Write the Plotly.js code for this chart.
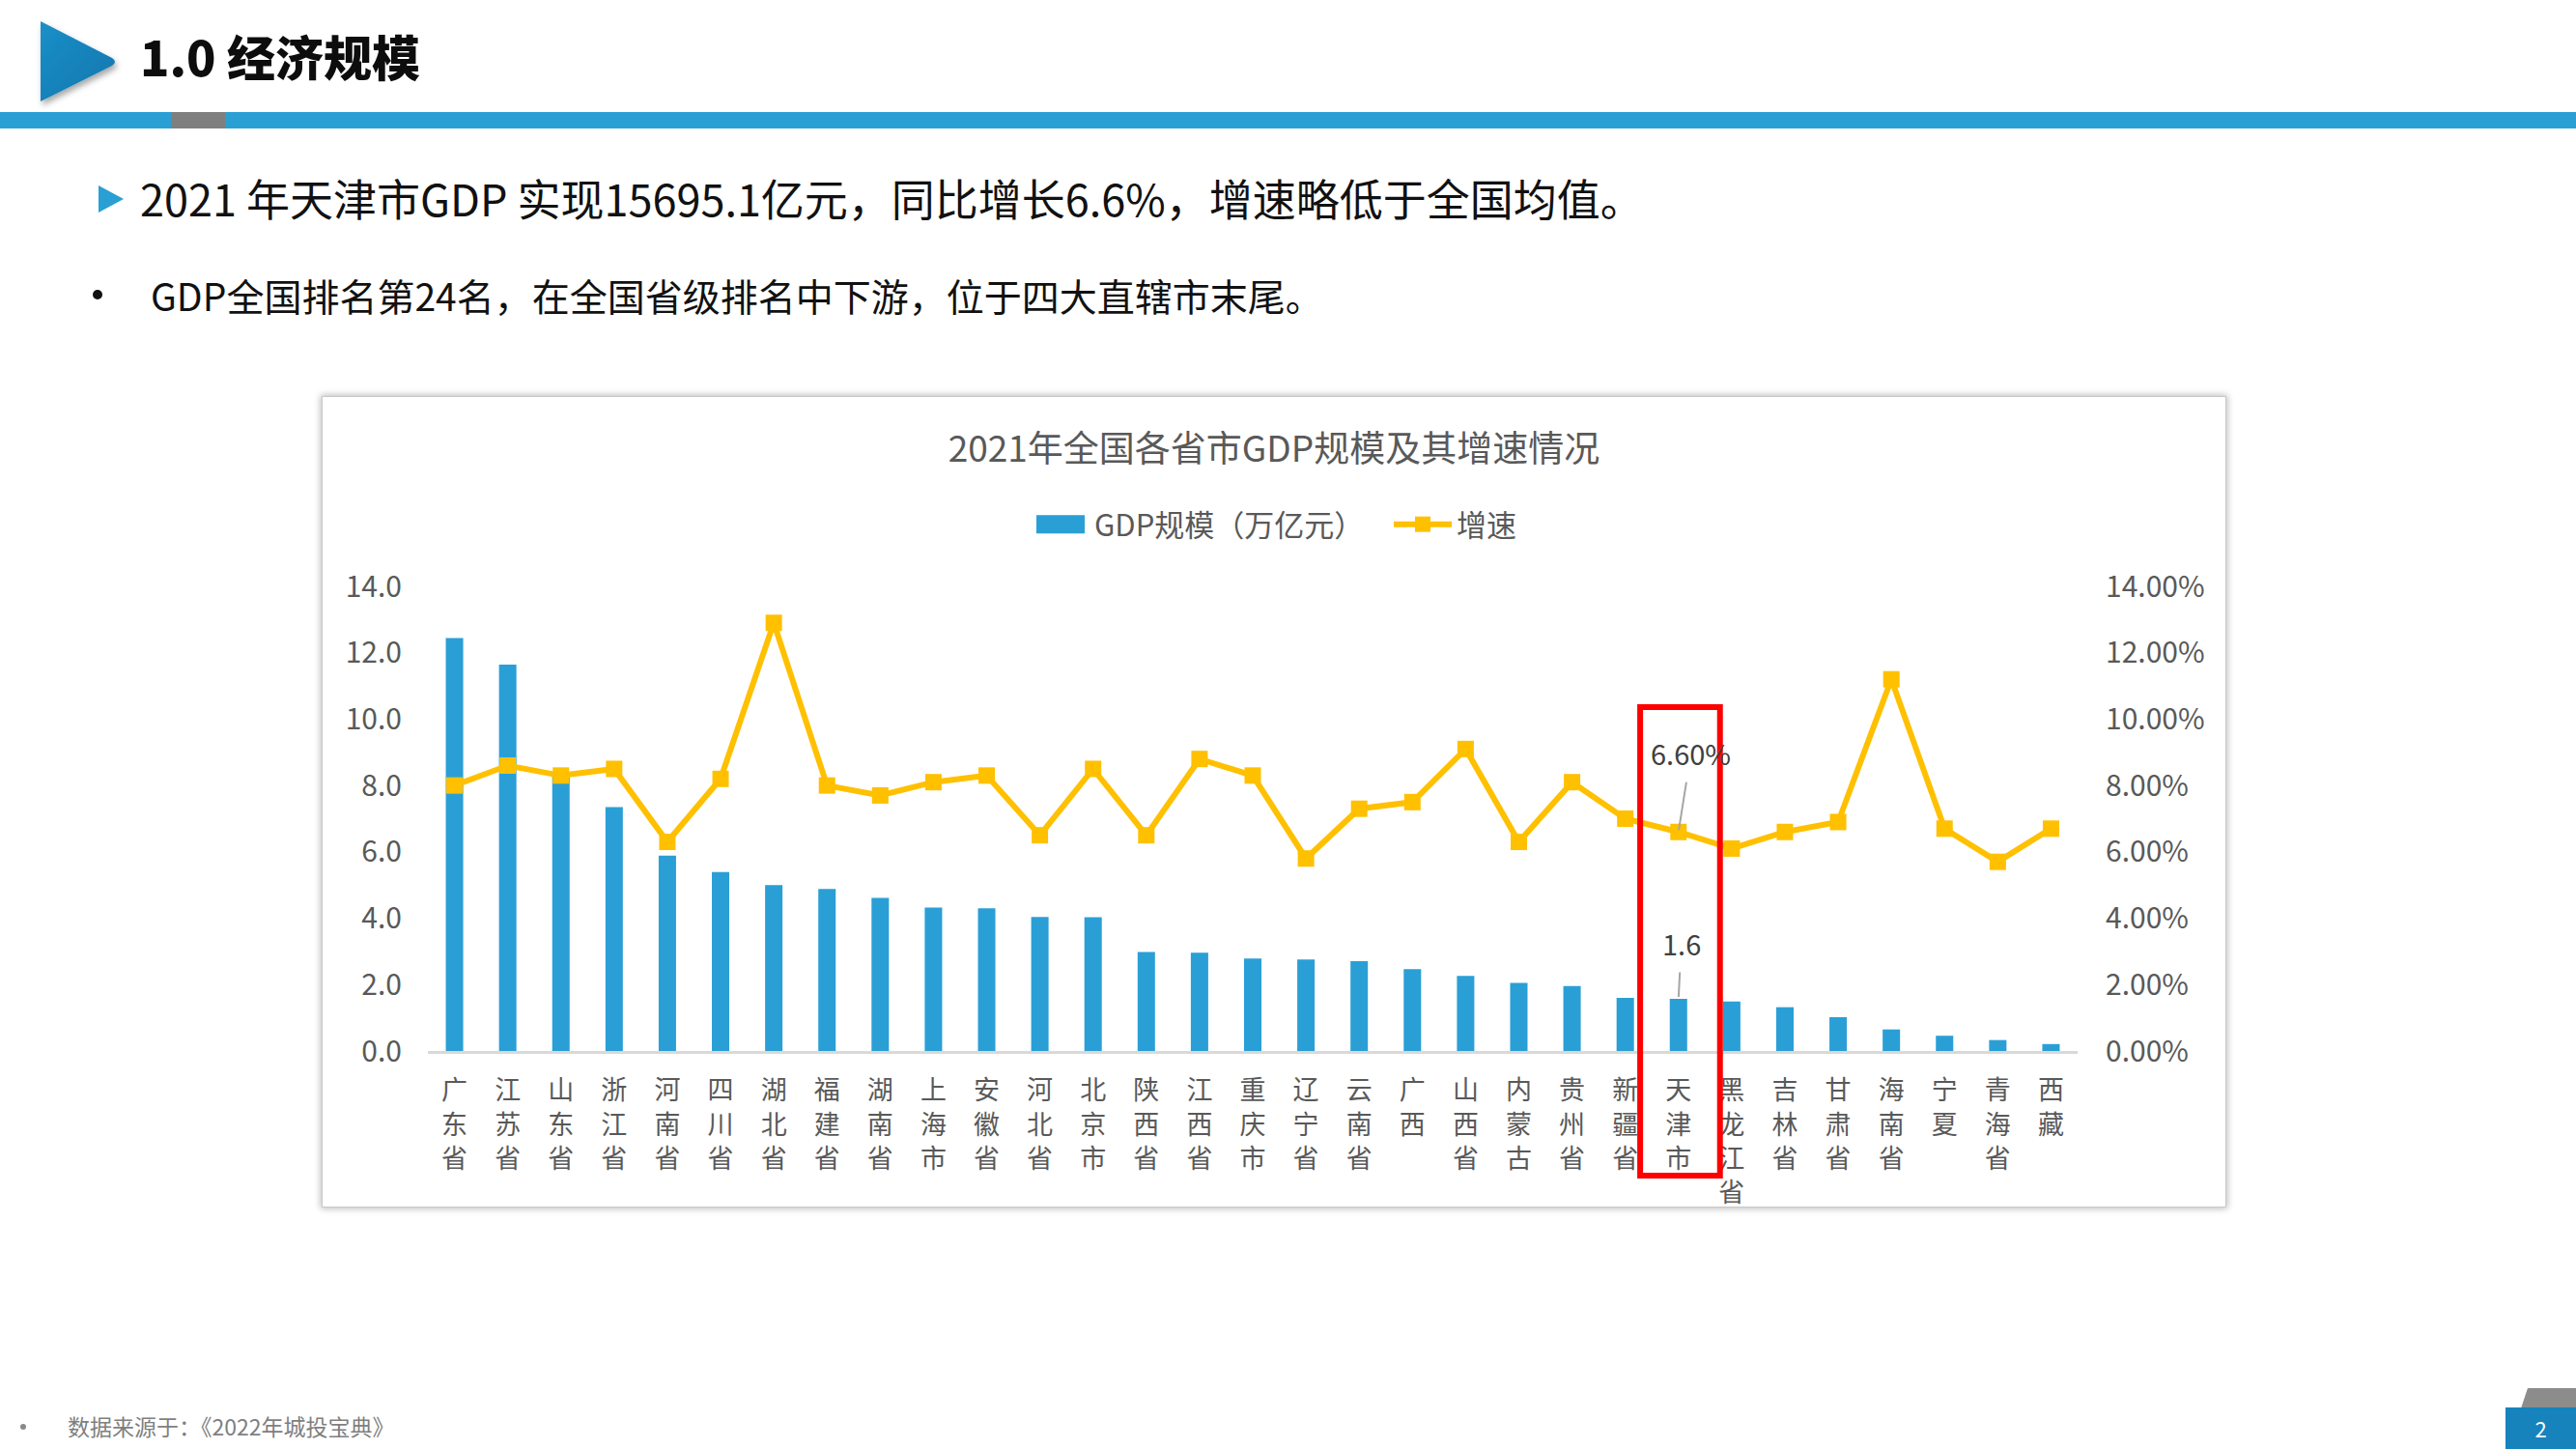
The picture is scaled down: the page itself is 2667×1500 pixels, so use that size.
<!DOCTYPE html>
<html>
<head>
<meta charset="utf-8">
<script src="https://cdn.plot.ly/plotly-3.0.1.min.js"></script>
<style>
  html, body { margin:0; padding:0; background:#ffffff; }
  body { width:2667px; height:1500px; position:relative; overflow:hidden;
         font-family:"Noto Sans CJK SC","Noto Sans",sans-serif; }
  .abs { position:absolute; }
  #hdrTitle { left:145px; top:22px; font-size:50px; font-weight:900; color:#0d0d0d; line-height:70px; }
  #bar { left:0; top:116px; width:2667px; height:17px; background:#2a9fd3; }
  #barGray { left:177px; top:116px; width:56px; height:17px; background:#7f7f7f; }
  #line1 { left:145px; top:177px; font-size:45px; color:#111; line-height:56px; white-space:nowrap; }
  #tri1 { left:100px; top:191px; }
  #line2 { left:156px; top:281px; font-size:39px; color:#111; line-height:48px; white-space:nowrap; }
  #dot2 { left:96px; top:300px; width:10px; height:10px; border-radius:50%; background:#111; }
  #frame { left:333px; top:410px; width:1972px; height:840px; border:1px solid #c8c8c8;
           box-shadow:0 0 7px 1px rgba(0,0,0,0.28); background:#fff; box-sizing:border-box; }
  #chart { left:333px; top:410px; width:1972px; height:880px; }
  #foot { left:70px; top:1461px; font-size:23px; color:#7f7f7f; white-space:nowrap; line-height:30px; }
  #dotF { left:21px; top:1474px; width:6px; height:6px; border-radius:50%; background:#8a8a8a; }
  #pgBox { left:2594px; top:1457px; width:73px; height:43px; background:#1683bd; color:#fff;
           font-size:22px; text-align:center; line-height:43px; }
</style>
</head>
<body>
<svg class="abs" style="left:30px;top:12px" width="110" height="105" viewBox="0 0 110 105">
  <defs>
    <linearGradient id="tg" x1="0" y1="0" x2="1" y2="1">
      <stop offset="0" stop-color="#1c8fc8"/>
      <stop offset="1" stop-color="#0f76ad"/>
    </linearGradient>
    <filter id="sh" x="-20%" y="-20%" width="150%" height="150%">
      <feDropShadow dx="2" dy="4" stdDeviation="3" flood-color="#000" flood-opacity="0.35"/>
    </filter>
  </defs>
  <path d="M12,10 L86,48 Q92,52 86,56 L12,93 Z" fill="url(#tg)" filter="url(#sh)"/>
</svg>
<div id="hdrTitle" class="abs">1.0 经济规模</div>
<div id="bar" class="abs"></div>
<div id="barGray" class="abs"></div>
<svg id="tri1" class="abs" width="30" height="30" viewBox="0 0 30 30"><path d="M2,1 L28,15 L2,29 Z" fill="#2a9fd3"/></svg>
<div id="line1" class="abs">2021 年天津市GDP 实现15695.1亿元，同比增长6.6%，增速略低于全国均值。</div>
<div id="dot2" class="abs"></div>
<div id="line2" class="abs">GDP全国排名第24名，在全国省级排名中下游，位于四大直辖市末尾。</div>
<div id="frame" class="abs"></div>
<div id="chart" class="abs"></div>
<div id="dotF" class="abs"></div>
<div id="foot" class="abs">数据来源于：《2022年城投宝典》</div>
<svg class="abs" style="left:2610px;top:1437px" width="57" height="21"><path d="M7,0 L57,0 L57,21 L0,21 Z" fill="#8c8c8c"/></svg>
<div id="pgBox" class="abs">2</div>

<script>
const provinces = ['广东省','江苏省','山东省','浙江省','河南省','四川省','湖北省','福建省','湖南省','上海市',
  '安徽省','河北省','北京市','陕西省','江西省','重庆市','辽宁省','云南省','广西','山西省',
  '内蒙古','贵州省','新疆省','天津市','黑龙江省','吉林省','甘肃省','海南省','宁夏','青海省','西藏'];
const gdp = [12.44,11.64,8.31,7.35,5.89,5.39,5.00,4.88,4.61,4.32,
  4.30,4.04,4.03,2.98,2.96,2.79,2.76,2.71,2.47,2.26,
  2.05,1.96,1.60,1.57,1.49,1.32,1.02,0.65,0.46,0.33,0.21];
const growth = [8.0,8.6,8.3,8.5,6.3,8.2,12.9,8.0,7.7,8.1,
  8.3,6.5,8.5,6.5,8.8,8.3,5.8,7.3,7.5,9.1,
  6.3,8.1,7.0,6.6,6.1,6.6,6.9,11.2,6.7,5.7,6.7];
const leftTicks = [0,2,4,6,8,10,12,14];
const rightTicks = [0,2,4,6,8,10,12,14];
const highlight = '天津市';

const hi = provinces.indexOf(highlight);
const tickText = provinces.map(p => p.split('').join('<br>'));
const grey = '#595959';
const fontFam = '"Noto Sans CJK SC", "Noto Sans", sans-serif';
const H = 880;

const traces = [
  { type:'bar', name:'GDP规模（万亿元）', x:provinces, y:gdp,
    marker:{color:'#2a9fd6'}, hoverinfo:'skip' },
  { type:'scatter', mode:'lines+markers', name:'增速', x:provinces, y:growth, yaxis:'y2',
    line:{color:'#ffc000', width:6}, marker:{symbol:'square', size:17, color:'#ffc000'}, hoverinfo:'skip' }
];

const layout = {
  width:1972, height:H,
  paper_bgcolor:'rgba(0,0,0,0)', plot_bgcolor:'rgba(0,0,0,0)',
  margin:{l:110, r:154, t:197, b:202},
  font:{family:fontFam, color:grey},
  title:{text:'2021年全国各省市GDP规模及其增速情况', font:{size:37, color:grey, family:fontFam},
         x:0.5, xanchor:'center', xref:'container', y:1-55/H, yref:'container', yanchor:'middle'},
  showlegend:true,
  legend:{orientation:'h', x:(1075-333-12)/1972, xanchor:'left', xref:'container', y:1-133/H, yref:'container', yanchor:'middle',
          font:{size:31, color:grey, family:fontFam}, itemwidth:60, entrywidth:300, bgcolor:'rgba(0,0,0,0)', traceorder:'normal'},
  bargap:0.673,
  xaxis:{type:'category', range:[-0.5, provinces.length-0.5], tickvals:provinces, ticktext:tickText,
         tickangle:0, tickfont:{size:27, color:grey, family:fontFam}, showline:true, linecolor:'#d9d9d9', linewidth:3,
         ticks:'', showgrid:false, zeroline:false, ticklabelstandoff:15, fixedrange:true},
  yaxis:{range:[0,14], tickvals:leftTicks, ticktext:leftTicks.map(v=>v.toFixed(1)), showgrid:false, zeroline:false,
         showline:false, ticks:'', tickfont:{size:30, color:grey, family:fontFam}, ticklabelstandoff:26},
  yaxis2:{range:[0,14], overlaying:'y', side:'right', tickvals:rightTicks, ticktext:rightTicks.map(v=>v.toFixed(2)+'%'),
          showgrid:false, zeroline:false, showline:false, ticks:'', tickfont:{size:30, color:grey, family:fontFam},
          ticklabelstandoff:28},
  annotations:[
    { x:highlight, y:growth[hi], yref:'y2', xref:'x', text:growth[hi].toFixed(2)+'%', showarrow:true,
      arrowhead:0, arrowcolor:'#a6a6a6', arrowwidth:2, ax:13, ay:-82, standoff:2, startstandoff:8,
      font:{size:29, color:'#404040', family:fontFam} },
    { x:highlight, y:gdp[hi], yref:'y', xref:'x', text:gdp[hi].toFixed(1), showarrow:true,
      arrowhead:0, arrowcolor:'#a6a6a6', arrowwidth:2, ax:3, ay:-58, standoff:2, startstandoff:8,
      font:{size:29, color:'#404040', family:fontFam} }
  ],
  shapes:[
    { type:'rect', xref:'x', yref:'paper', x0:hi-0.72, x1:hi+0.78, y0:-0.268, y1:0.740,
      line:{color:'#ff0000', width:6}, fillcolor:'rgba(0,0,0,0)', layer:'above' }
  ]
};

Plotly.newPlot('chart', traces, layout, {displayModeBar:false, staticPlot:true}).then(gd => {
  const items = gd.querySelectorAll('.legend .traces');
  if (items.length) {
    const p = items[0].querySelector('.legendpoints path');
    if (p) p.setAttribute('d', 'M-25,9.5H25V-9.5H-25Z');
  }
});
</script>
</body>
</html>
